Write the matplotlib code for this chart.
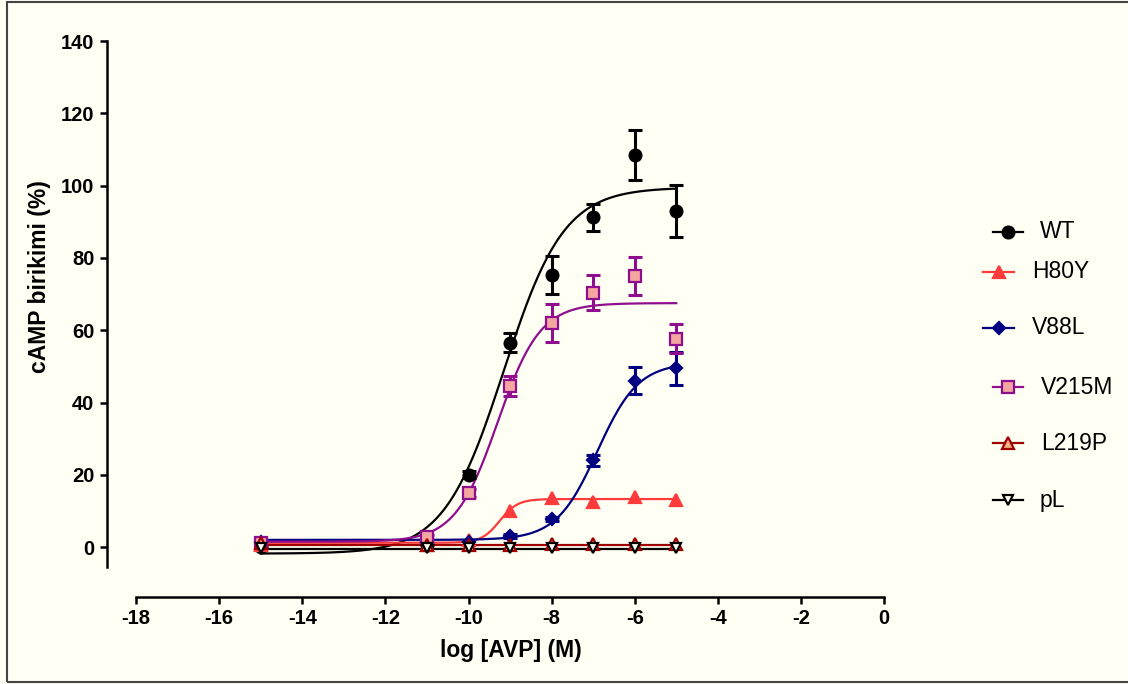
from matplotlib import pyplot as plt
from matplotlib.lines import Line2D
from matplotlib.patches import Rectangle
import numpy as np

plt.rcParams['font.family'] = ['Liberation Sans', 'DejaVu Sans']
plt.rcParams['axes.unicode_minus'] = False

# Concentrations, log [AVP] (M).
log_avp = np.array([-15, -11, -10, -9, -8, -7, -6, -5])

# Mean cAMP accumulation (%) and error for each construct.
wt = [0.0, 0.5, 20.0, 56.5, 75.3, 91.2, 108.5, 93.0]
wt_err = [0, 0, 1.0, 2.6, 5.3, 3.7, 7.0, 7.1]
h80y = [0.5, 0.5, 2.0, 10.0, 13.5, 12.5, 14.0, 13.0]
h80y_err = [0, 0, 0, 0, 0, 0, 0, 0]
v88l = [1.5, 1.5, 1.5, 3.0, 7.7, 24.0, 46.0, 49.5]
v88l_err = [0, 0, 0, 0.5, 0.5, 1.5, 3.7, 4.6]
v215m = [1.0, 2.8, 15.0, 44.5, 62.0, 70.4, 75.0, 57.7]
v215m_err = [0, 0.5, 1.0, 2.8, 5.3, 4.8, 5.2, 4.1]
l219p = [1.0, 0.5, 0.5, 0.5, 0.8, 0.8, 0.8, 0.8]
l219p_err = [0, 0, 0, 0, 0, 0, 0, 0]
pl = [-0.3, -0.3, -0.3, -0.3, -0.3, -0.3, -0.3, -0.3]
pl_err = [0, 0, 0, 0, 0, 0, 0, 0]

# Fitted sigmoidal dose response: bottom, top, logEC50, hill slope.
fits = {
    'WT': (-1.8, 99.5, -9.15, 0.6),
    'H80Y': (1.2, 13.3, -9.25, 2.0),
    'V88L': (2.0, 51.0, -6.9, 0.88),
    'V215M': (1.5, 67.5, -9.3, 0.85),
    'L219P': (0.6, 0.6, -9.0, 1.0),
    'pL': (-0.6, -0.6, -9.0, 1.0),
}

series = [
    # name, values, errors, line colour, marker, face colour, size
    ('WT', wt, wt_err, 'black', 'o', 'black', 8.5),
    ('H80Y', h80y, h80y_err, '#FF3B3B', '^', '#FF3B3B', 8.5),
    ('V88L', v88l, v88l_err, '#000080', 'D', '#000080', 6.5),
    ('V215M', v215m, v215m_err, '#8E0E8E', 's', '#F4A7A0', 8.0),
    ('L219P', l219p, l219p_err, '#A00000', '^', '#F4B183', 8.0),
    ('pL', pl, pl_err, 'black', 'v', '#FFFFF4', 7.5),
]

def dose_response(x, bottom, top, log_ec50, hill):
    return bottom + (top - bottom) / (1 + 10 ** ((log_ec50 - x) * hill))

background = '#FFFFF4'
fig = plt.figure(figsize = (11.28, 6.84), dpi = 100, facecolor = background)
W, H = 1128.0, 684.0
ax = fig.add_axes([107 / W, 87 / H, 789.5 / W, 563.2 / H])
ax.set_facecolor(background)

curve_x = np.linspace(-15, -5, 300)
for name, values, errors, colour, marker, face, size in series:
    values = np.array(values)
    errors = np.array(errors)
    ax.plot(curve_x, dose_response(curve_x, *fits[name]),
        color = colour, lw = 1.6, zorder = 2)
    has_err = errors > 0
    if has_err.any():
        ax.errorbar(log_avp[has_err], values[has_err], yerr = errors[has_err],
            fmt = 'none', ecolor = colour, elinewidth = 2.2,
            capsize = 5, capthick = 2.2, zorder = 3)
    ax.plot(log_avp, values, ls = 'none', marker = marker, ms = size,
        mfc = face, mec = colour, mew = 1.6, zorder = 4)

# GraphPad style detached axes.
ax.set_xlim(-18.7, 0.3)
ax.set_ylim(-13.8, 142)
ax.spines['top'].set_visible(False)
ax.spines['right'].set_visible(False)
ax.spines['left'].set_bounds(-5.5, 140)
ax.spines['bottom'].set_bounds(-18, 0)
for side in ['left', 'bottom']:
    ax.spines[side].set_linewidth(1.8)
ax.set_xticks(np.arange(-18, 1, 2))
ax.set_yticks(np.arange(0, 141, 20))
ax.tick_params(width = 1.8, length = 5, labelsize = 14.5, pad = 4)
for label in ax.get_xticklabels() + ax.get_yticklabels():
    label.set_fontweight('bold')
ax.set_xlabel('log [AVP] (M)', fontsize = 16.5, fontweight = 'bold')
ax.set_ylabel('cAMP birikimi (%)', fontsize = 16.5, fontweight = 'bold')
ax.xaxis.set_label_coords((511 - 107) / 789.5, -(651 - 597) / 563.2, transform = ax.transAxes)
ax.yaxis.set_label_coords(-(107 - 40) / 789.5, (597 - 277) / 563.2, transform = ax.transAxes)
ax.xaxis.label.set_va('center')
ax.yaxis.label.set_va('center')

# Hand placed legend to follow the uneven spacing of the original.
legend_rows = [
    # y from top, line start, line end, text x
    (232, 993, 1023, 1040),
    (272, 983, 1014, 1032),
    (328, 983, 1014, 1032),
    (387, 993, 1023, 1041),
    (443, 993, 1023, 1041),
    (500, 993, 1023, 1040),
]
for (name, values, errors, colour, marker, face, size), row in zip(series, legend_rows):
    y, x0, x1, tx = row
    fy = 1 - y / H
    fig.add_artist(Line2D([x0 / W, x1 / W], [fy, fy], transform = fig.transFigure,
        color = colour, lw = 1.6))
    fig.add_artist(Line2D([(x0 + x1) / 2 / W], [fy], transform = fig.transFigure,
        ls = 'none', marker = marker, ms = size, mfc = face, mec = colour, mew = 1.6))
    fig.text(tx / W, fy, name, fontsize = 16.5, va = 'center', ha = 'left')

# Frame around the image.
fig.add_artist(Rectangle((6.5 / W, 2 / H), 1.2, 680 / H, transform = fig.transFigure,
    fill = False, edgecolor = '#444444', lw = 1.5))

plt.savefig('out.png', dpi = 100, facecolor = background)
